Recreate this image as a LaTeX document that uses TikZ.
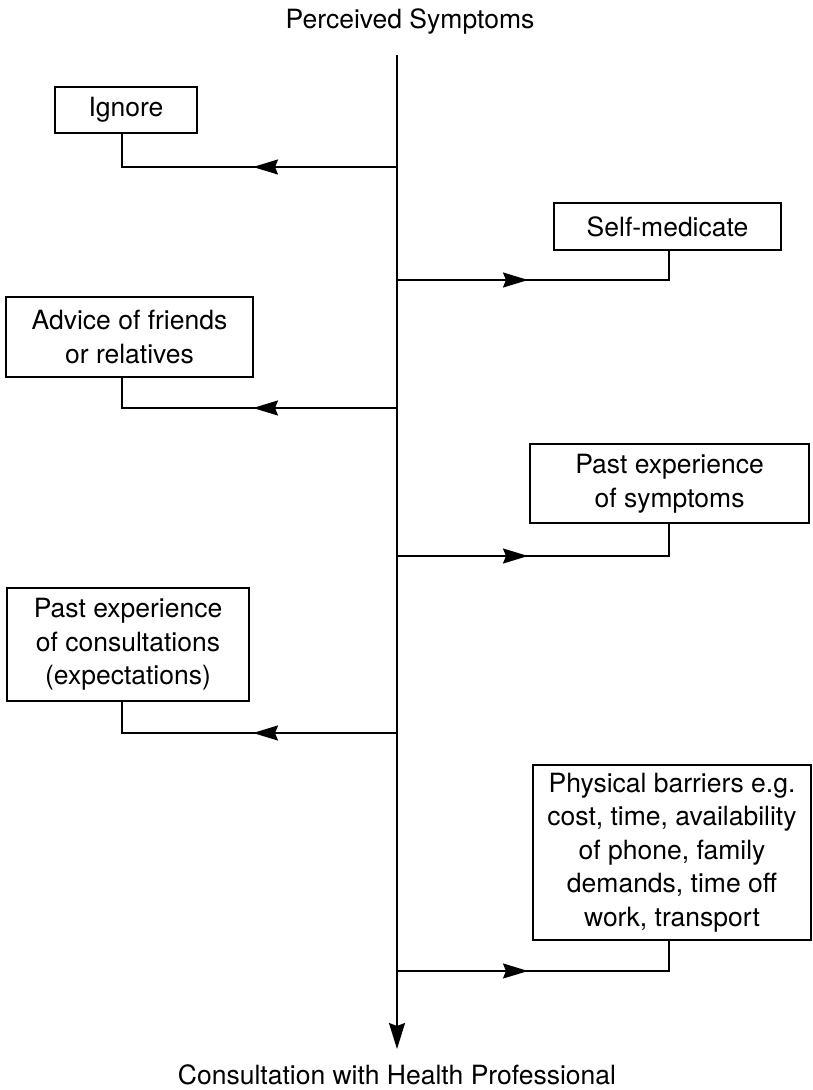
\documentclass[tikz,border=0pt]{standalone}
\usepackage{fontspec}
\setmainfont{TeX Gyre Heros}
\usetikzlibrary{arrows.meta,decorations.markings}
\begin{document}
\begin{tikzpicture}[x=1pt,y=-1pt,
  box/.style={draw,line width=1.6pt,inner sep=0pt,align=center,font=\fontsize{26.5}{33.5}\selectfont},
  lbl/.style={inner sep=0pt,font=\fontsize{26.5}{33.5}\selectfont},
  conn/.style={line width=1.8pt},
  tipmark/.style={postaction={decorate},decoration={markings,mark=at position #1 with {\arrow{Stealth[length=25pt,width=15pt,inset=3pt]}}}},
]
\useasboundingbox (0,0) rectangle (812,1090);

% labels
\node[lbl,anchor=base] (top) at (410,28) {Perceived Symptoms};
\node[lbl,anchor=base] (bottom) at (397,1084) {Consultation with Health Professional};

% boxes
\node[box,minimum width=142pt,minimum height=46pt] (ign) at (126,110) {Ignore};
\node[box,minimum width=227pt,minimum height=47pt] (self) at (667.5,226.5) {Self-medicate};
\node[box,minimum width=247pt,minimum height=80pt] (adv) at (129.5,337) {Advice of friends\\or relatives};
\node[box,minimum width=279pt,minimum height=79pt] (pes) at (669.5,483.5) {Past experience\\of symptoms};
\node[box,minimum width=242pt,minimum height=113pt] (pec) at (128,644.5) {Past experience\\of consultations\\(expectations)};
\node[box,minimum width=278pt,minimum height=175pt] (phys) at (672,852.5) {Physical barriers e.g.\\cost, time, availability\\of phone, family\\demands, time off\\work, transport};

% spine
\coordinate (st) at (397,55);
\coordinate (sb) at (397,1049);
\coordinate (L) at (122,0);
\coordinate (R) at (669,0);
\coordinate (s1) at (397,167);
\coordinate (s2) at (397,280);
\coordinate (s3) at (397,408);
\coordinate (s4) at (397,556);
\coordinate (s5) at (397,733);
\coordinate (s6) at (397,971);

\draw[conn,-{Stealth[length=26pt,width=16pt,inset=3pt]}] (st) -- (sb);

% branches
\draw[conn,tipmark=144pt] (s1) -| (L |- ign.south);
\draw[conn,tipmark=131pt] (s2) -| (R |- self.south);
\draw[conn,tipmark=144pt] (s3) -| (L |- adv.south);
\draw[conn,tipmark=131pt] (s4) -| (R |- pes.south);
\draw[conn,tipmark=144pt] (s5) -| (L |- pec.south);
\draw[conn,tipmark=131pt] (s6) -| (R |- phys.south);
\end{tikzpicture}
\end{document}
